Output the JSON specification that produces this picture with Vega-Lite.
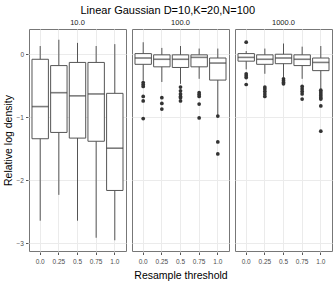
{
  "$schema": "https://vega.github.io/schema/vega-lite/v6.json",
  "padding": {"left": 3, "top": 4, "right": 5, "bottom": 4},
  "background": "white",
  "title": {"text": "Linear Gaussian D=10,K=20,N=100", "fontSize": 11, "font": "Liberation Sans", "fontWeight": "normal", "color": "#000000", "anchor": "middle", "offset": 3},
  "data": {"values": [
    {"p":"10.0","t":"0.0","lo":-2.64,"q1":-1.34,"med":-0.83,"q3":-0.08,"hi":0.13},
    {"p":"10.0","t":"0.25","lo":-2.23,"q1":-1.24,"med":-0.61,"q3":-0.18,"hi":0.23},
    {"p":"10.0","t":"0.5","lo":-2.64,"q1":-1.33,"med":-0.66,"q3":-0.13,"hi":0.18},
    {"p":"10.0","t":"0.75","lo":-2.91,"q1":-1.38,"med":-0.63,"q3":-0.13,"hi":0.13},
    {"p":"10.0","t":"1.0","lo":-2.95,"q1":-2.16,"med":-1.49,"q3":-0.62,"hi":0.16},
    {"p":"100.0","t":"0.0","lo":-0.42,"q1":-0.16,"med":-0.06,"q3":0.01,"hi":0.19},
    {"p":"100.0","t":"0.25","lo":-0.44,"q1":-0.2,"med":-0.08,"q3":-0.01,"hi":0.1},
    {"p":"100.0","t":"0.5","lo":-0.47,"q1":-0.21,"med":-0.08,"q3":-0.01,"hi":0.13},
    {"p":"100.0","t":"0.75","lo":-0.39,"q1":-0.2,"med":-0.05,"q3":-0.01,"hi":0.09},
    {"p":"100.0","t":"1.0","lo":-0.97,"q1":-0.41,"med":-0.14,"q3":-0.06,"hi":0.09},
    {"p":"1000.0","t":"0.0","lo":-0.24,"q1":-0.11,"med":-0.05,"q3":0.01,"hi":0.05},
    {"p":"1000.0","t":"0.25","lo":-0.31,"q1":-0.16,"med":-0.08,"q3":-0.01,"hi":0.09},
    {"p":"1000.0","t":"0.5","lo":-0.37,"q1":-0.15,"med":-0.06,"q3":0.0,"hi":0.17},
    {"p":"1000.0","t":"0.75","lo":-0.39,"q1":-0.18,"med":-0.08,"q3":-0.01,"hi":0.12},
    {"p":"1000.0","t":"1.0","lo":-0.55,"q1":-0.26,"med":-0.13,"q3":-0.06,"hi":0.13},
    {"p":"100.0","t":"0.0","v":-0.45},
    {"p":"100.0","t":"0.0","v":-0.48},
    {"p":"100.0","t":"0.0","v":-0.51},
    {"p":"100.0","t":"0.0","v":-0.67},
    {"p":"100.0","t":"0.0","v":-0.74},
    {"p":"100.0","t":"0.0","v":-1.02},
    {"p":"100.0","t":"0.25","v":-0.69},
    {"p":"100.0","t":"0.25","v":-0.78},
    {"p":"100.0","t":"0.25","v":-0.87},
    {"p":"100.0","t":"0.5","v":-0.52},
    {"p":"100.0","t":"0.5","v":-0.58},
    {"p":"100.0","t":"0.5","v":-0.63},
    {"p":"100.0","t":"0.5","v":-0.67},
    {"p":"100.0","t":"0.5","v":-0.69},
    {"p":"100.0","t":"0.5","v":-0.74},
    {"p":"100.0","t":"0.75","v":-0.61},
    {"p":"100.0","t":"0.75","v":-0.64},
    {"p":"100.0","t":"0.75","v":-0.67},
    {"p":"100.0","t":"0.75","v":-0.79},
    {"p":"100.0","t":"0.75","v":-1.01},
    {"p":"100.0","t":"1.0","v":-0.98},
    {"p":"100.0","t":"1.0","v":-1.39},
    {"p":"100.0","t":"1.0","v":-1.58},
    {"p":"1000.0","t":"0.0","v":0.19},
    {"p":"1000.0","t":"0.0","v":-0.31},
    {"p":"1000.0","t":"0.0","v":-0.34},
    {"p":"1000.0","t":"0.0","v":-0.37},
    {"p":"1000.0","t":"0.0","v":-0.48},
    {"p":"1000.0","t":"0.25","v":-0.52},
    {"p":"1000.0","t":"0.25","v":-0.55},
    {"p":"1000.0","t":"0.25","v":-0.59},
    {"p":"1000.0","t":"0.25","v":-0.63},
    {"p":"1000.0","t":"0.25","v":-0.67},
    {"p":"1000.0","t":"0.5","v":-0.39},
    {"p":"1000.0","t":"0.5","v":-0.42},
    {"p":"1000.0","t":"0.5","v":-0.45},
    {"p":"1000.0","t":"0.5","v":-0.47},
    {"p":"1000.0","t":"0.75","v":-0.51},
    {"p":"1000.0","t":"0.75","v":-0.55},
    {"p":"1000.0","t":"0.75","v":-0.59},
    {"p":"1000.0","t":"0.75","v":-0.63},
    {"p":"1000.0","t":"0.75","v":-0.71},
    {"p":"1000.0","t":"1.0","v":-0.57},
    {"p":"1000.0","t":"1.0","v":-0.6},
    {"p":"1000.0","t":"1.0","v":-0.63},
    {"p":"1000.0","t":"1.0","v":-0.66},
    {"p":"1000.0","t":"1.0","v":-0.69},
    {"p":"1000.0","t":"1.0","v":-0.71},
    {"p":"1000.0","t":"1.0","v":-0.82},
    {"p":"1000.0","t":"1.0","v":-1.22}
  ]},
  "facet": {"column": {"field": "p", "type": "nominal", "sort": ["10.0","100.0","1000.0"],
    "header": {"title": "Resample threshold", "titleOrient": "bottom", "labelOrient": "top",
      "titleFont": "Liberation Sans", "titleFontSize": 10.5, "titleFontWeight": "normal", "titleColor": "#000000", "titlePadding": -4,
      "labelFontSize": 7.5, "labelFont": "Liberation Sans", "labelColor": "#1a1a1a", "labelPadding": 2}}},
  "spacing": 4,
  "spec": {
    "width": 97,
    "height": 222,
    "encoding": {
      "x": {"field": "t", "type": "ordinal", "sort": ["0.0","0.25","0.5","0.75","1.0"],
        "scale": {"paddingInner": 0, "paddingOuter": 0.1},
        "title": null,
        "axis": {"labelAngle": 0, "bandPosition": 0.5, "grid": true}}
    },
    "layer": [
      {"transform": [{"filter": "isValid(datum.med)"}],
       "mark": {"type": "rule", "color": "#555555", "strokeWidth": 1},
       "encoding": {
         "y": {"field": "lo", "type": "quantitative", "scale": {"domain": [-3.12, 0.4], "nice": false, "zero": false},
           "title": "Relative log density",
           "axis": {"values": [-3,-2.5,-2,-1.5,-1,-0.5,0], "labelExpr": "datum.value % 1 === 0 ? format(datum.value, 'd') : ''",
             "tickOpacity": {"condition": {"test": "datum.value % 1 === 0", "value": 1}, "value": 0},
             "gridWidth": {"condition": {"test": "datum.value % 1 === 0", "value": 1}, "value": 0.5}}},
         "y2": {"field": "hi"}
       }},
      {"transform": [{"filter": "isValid(datum.med)"}],
       "mark": {"type": "bar", "fill": "white", "stroke": "#555555", "strokeWidth": 1, "width": {"band": 0.88}},
       "encoding": {"y": {"field": "q1", "type": "quantitative"}, "y2": {"field": "q3"}}},
      {"transform": [{"filter": "isValid(datum.med)"}],
       "mark": {"type": "tick", "color": "#444444", "thickness": 1.6, "size": 16.5},
       "encoding": {"y": {"field": "med", "type": "quantitative"}}},
      {"transform": [{"filter": "isValid(datum.v)"}],
       "mark": {"type": "circle", "color": "#333333", "opacity": 1, "size": 14},
       "encoding": {"y": {"field": "v", "type": "quantitative"}}}
    ]
  },
  "config": {
    "view": {"stroke": "#777777", "strokeWidth": 1},
    "axis": {"labelFont": "Liberation Sans", "labelFontSize": 6.5, "labelColor": "#4d4d4d", "tickColor": "#555555", "tickSize": 2.5, "labelPadding": 2,
      "domain": false, "gridColor": "#ebebeb", "titleFont": "Liberation Sans", "titleFontSize": 10.5, "titleFontWeight": "normal", "titleColor": "#000000"},
    "axisY": {"titlePadding": 3},
    "axisX": {"labelPadding": 4}
  }
}
